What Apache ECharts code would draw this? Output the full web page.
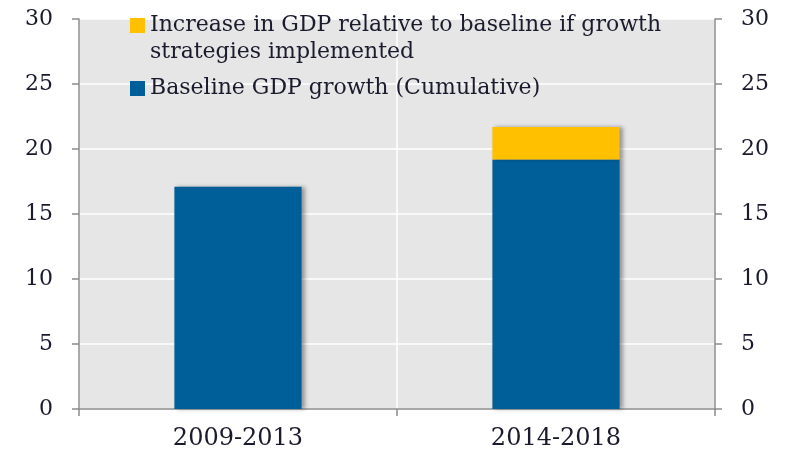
<!DOCTYPE html>
<html>
<head>
<meta charset="utf-8">
<script src="https://cdn.jsdelivr.net/npm/echarts@6/dist/echarts.min.js"></script>
<style>
  html, body { margin: 0; padding: 0; background: #fff; }
  #chart { width: 792px; height: 452px; }
</style>
</head>
<body>
<div id="chart"></div>
<script>
const categories = ['2009-2013', '2014-2018'];
const baseline = [17.1, 19.2];
const increase = [null, 2.5];
const yTicks = { min: 0, max: 30, interval: 5 };

const nameIncrease = 'Increase in GDP relative to baseline if growth\nstrategies implemented';
const nameBaseline = 'Baseline GDP growth (Cumulative)';

const font = 'DejaVu Serif';
const textColor = '#1b1b2e';

const valueAxis = (pos) => ({
  type: 'value',
  position: pos,
  min: yTicks.min,
  max: yTicks.max,
  interval: yTicks.interval,
  axisLine: { show: true, lineStyle: { color: '#8c8c8c', width: 1.5 } },
  axisTick: { show: true, length: 7, lineStyle: { color: '#8c8c8c', width: 1.5 } },
  axisLabel: { margin: 26, color: textColor, fontFamily: font, fontSize: 22 },
  splitLine: { show: pos === 'left', lineStyle: { color: '#ffffff', width: 1.5 } },
});

const chart = echarts.init(document.getElementById('chart'));
chart.setOption({
  animation: false,
  grid: {
    left: 79, right: 77, top: 19, bottom: 43,
    show: true, backgroundColor: '#e6e6e6', borderWidth: 0,
  },
  legend: {
    orient: 'vertical',
    left: 130, top: -15,
    padding: 0,
    icon: 'rect',
    itemWidth: 15, itemHeight: 15,
    itemGap: 9,
    data: [nameIncrease, nameBaseline],
    // blank first line so the square sits level with the first text line
    formatter: (name) => (name === nameIncrease ? '\n' + name : name),
    textStyle: { color: textColor, fontFamily: font, fontSize: 22, lineHeight: 27 },
  },
  xAxis: {
    type: 'category',
    data: categories,
    axisLine: { lineStyle: { color: '#8c8c8c', width: 1.5 } },
    axisTick: { show: true, length: 7, lineStyle: { color: '#8c8c8c', width: 1.5 } },
    axisLabel: { margin: 18, color: textColor, fontFamily: font, fontSize: 24 },
    splitLine: { show: true, lineStyle: { color: '#ffffff', width: 1.5 } },
  },
  yAxis: [valueAxis('left'), valueAxis('right')],
  series: [
    {
      name: nameBaseline,
      type: 'bar',
      stack: 'gdp',
      barWidth: '40%',
      data: baseline,
      itemStyle: { color: '#005f99', shadowColor: 'rgba(0,0,0,0.35)', shadowBlur: 4, shadowOffsetX: 3 },
    },
    {
      name: nameIncrease,
      type: 'bar',
      stack: 'gdp',
      barWidth: '40%',
      data: increase,
      itemStyle: { color: '#ffc000', shadowColor: 'rgba(0,0,0,0.35)', shadowBlur: 4, shadowOffsetX: 3 },
    },
  ],
});
</script>
</body>
</html>
